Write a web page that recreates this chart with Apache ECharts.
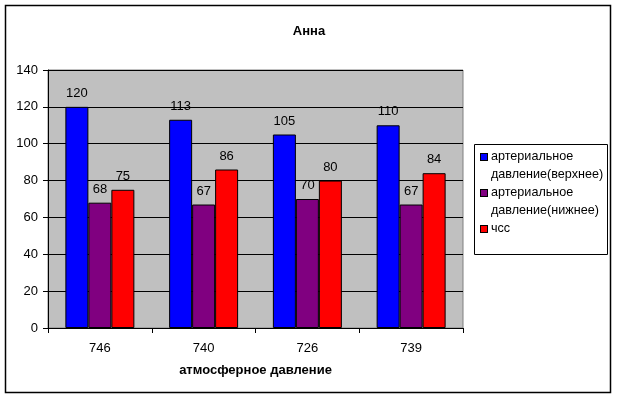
<!DOCTYPE html>
<html>
<head>
<meta charset="utf-8">
<script src="https://cdn.jsdelivr.net/npm/echarts@6/dist/echarts.min.js"></script>
<style>
html,body{margin:0;padding:0;background:#fff;}
#c{width:618px;height:399px;}
</style>
</head>
<body>
<div id="c"></div>
<script>
var categories = ['746', '740', '726', '739'];
var seriesNames = ['артериальное давление(верхнее)', 'артериальное давление(нижнее)', 'чсс'];
var upperBP = [120, 113, 105, 110];
var lowerBP = [68, 67, 70, 67];
var heartRate = [75, 86, 80, 84];
var yTicks = [0, 20, 40, 60, 80, 100, 120, 140];
var colors = ['#0000FF', '#800080', '#FF0000'];
var values = [upperBP, lowerBP, heartRate];

var FONT = "'Liberation Sans', Arial, sans-serif";
var FS = 13;
var LFS = 12.6;
var chart = echarts.init(document.getElementById('c'), null, {renderer: 'canvas'});

var rich = {
  t: {fontFamily: FONT, fontSize: LFS, color: '#000', lineHeight: 18, padding: [0, 0, 0, 4]},
  s: {width: 6, height: 6, lineHeight: 18}
};
colors.forEach(function (c, i) {
  rich['m' + i] = {width: 6, height: 6, lineHeight: 18, backgroundColor: c, borderColor: '#000', borderWidth: 1, verticalAlign: 'middle'};
});

var series = seriesNames.map(function (name, i) {
  return {
    name: name,
    type: 'bar',
    data: values[i],
    barGap: '0%',
    barCategoryGap: '33.5%',
    itemStyle: {color: colors[i], borderColor: '#000', borderWidth: 1},
    label: {show: true, position: 'top', distance: 7, fontFamily: FONT, fontSize: FS, color: '#000'},
    emphasis: {disabled: true}
  };
});

chart.setOption({
  animation: false,
  title: {
    text: 'Анна', left: 'center', top: 20,
    textStyle: {fontFamily: FONT, fontSize: FS, fontWeight: 'bold', color: '#000'}
  },
  grid: {
    left: 48, right: 155, top: 70, bottom: 71,
    show: true, backgroundColor: '#C0C0C0', borderColor: '#808080', borderWidth: 1
  },
  legend: {
    orient: 'vertical', left: 475, top: 148,
    itemWidth: 0, itemHeight: 0, itemGap: 0, padding: 0,
    selectedMode: false,
    data: seriesNames,
    formatter: function (name) {
      var i = seriesNames.indexOf(name);
      var sp = name.indexOf(' ');
      if (sp > 0) {
        return '{m' + i + '|}{t|' + name.slice(0, sp) + '}\n{s|}{t|' + name.slice(sp + 1) + '}';
      }
      return '{m' + i + '|}{t|' + name + '}';
    },
    textStyle: {fontFamily: FONT, fontSize: LFS, color: '#000', lineHeight: 18, rich: rich}
  },
  xAxis: {
    type: 'category', data: categories,
    name: 'атмосферное давление', nameLocation: 'middle', nameGap: 36,
    nameTextStyle: {fontFamily: FONT, fontSize: FS, fontWeight: 'bold', color: '#000'},
    axisLine: {lineStyle: {color: '#000', width: 1}},
    axisTick: {show: true, length: 5, lineStyle: {color: '#000'}},
    axisLabel: {fontFamily: FONT, fontSize: FS, color: '#000', margin: 14}
  },
  yAxis: {
    type: 'value', min: yTicks[0], max: yTicks[yTicks.length - 1], interval: yTicks[1] - yTicks[0],
    axisLine: {show: true, lineStyle: {color: '#000', width: 1}},
    axisTick: {show: true, length: 5, lineStyle: {color: '#000'}},
    axisLabel: {fontFamily: FONT, fontSize: FS, color: '#000', margin: 10},
    splitLine: {show: true, lineStyle: {color: '#000', width: 1}}
  },
  graphic: [
    {type: 'rect', silent: true, shape: {x: 5.5, y: 5.5, width: 605, height: 387}, style: {fill: 'none', stroke: '#000', lineWidth: 1.5}},
    {type: 'rect', silent: true, shape: {x: 474.5, y: 144.5, width: 133, height: 110}, style: {fill: 'none', stroke: '#000', lineWidth: 1}}
  ],
  series: series
});
</script>
</body>
</html>
